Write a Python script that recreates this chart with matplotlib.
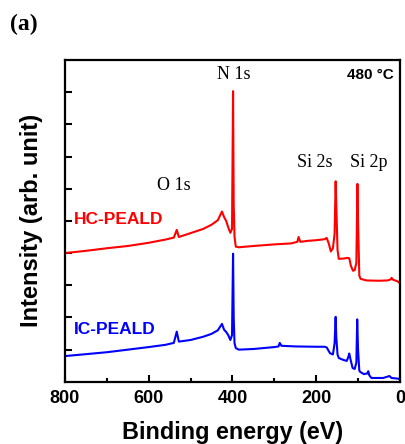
import matplotlib
matplotlib.use("Agg")
import matplotlib.pyplot as plt
from matplotlib.ticker import MultipleLocator

# Binding energy (eV) and intensity (arb. unit)
hc_energy = [800, 750, 700, 650, 600, 560, 540, 533, 528, 500, 470, 450, 435, 425, 420,
             415, 410, 405, 401, 398.5, 397, 395, 392, 385, 350, 300, 260, 245, 242, 238,
             220, 200, 180, 175, 170, 165, 160, 156, 153.5, 152, 149, 146, 135, 125, 121,
             117, 112, 108, 104, 101.5, 100, 97, 94, 80, 50, 30, 22, 20, 16, 5, 0]
hc_intensity = [4.0, 4.07, 4.15, 4.22, 4.32, 4.42, 4.48, 4.72, 4.5, 4.62, 4.75, 4.88, 5.02, 5.29, 5.12,
                5.0, 4.8, 4.63, 4.75, 9.03, 5.5, 4.5, 4.2, 4.18, 4.22, 4.27, 4.3, 4.35, 4.5, 4.35,
                4.38, 4.4, 4.43, 4.47, 4.3, 4.05, 4.15, 4.6, 6.23, 5.5, 4.1, 3.82, 3.83, 3.85, 3.84,
                3.6, 3.45, 3.47, 3.7, 6.15, 5.0, 3.3, 3.2, 3.15, 3.14, 3.15, 3.18, 3.23, 3.17, 3.12, 3.06]

ic_energy = [800, 750, 700, 650, 600, 560, 540, 533, 528, 500, 470, 450, 435, 425, 420,
             415, 410, 405, 401, 398.5, 397, 395, 392, 385, 350, 300, 290, 287, 283, 250,
             200, 180, 175, 167, 160, 156, 153.5, 152, 149, 146, 135, 127, 123, 121, 118,
             113, 108, 104, 102, 100, 97, 95, 86, 78, 75.6, 73, 68, 40, 25, 20, 5, 0]
ic_intensity = [0.8, 0.86, 0.92, 1.0, 1.08, 1.15, 1.21, 1.56, 1.25, 1.3, 1.4, 1.49, 1.6, 1.8, 1.62,
                1.55, 1.45, 1.3, 1.45, 3.98, 2.0, 1.2, 1.05, 1.0, 1.02, 1.08, 1.1, 1.21, 1.12, 1.1,
                1.09, 1.09, 1.07, 0.89, 0.85, 1.2, 2.02, 1.4, 0.85, 0.74, 0.68, 0.65, 0.78, 0.88, 0.7,
                0.43, 0.4, 0.6, 1.94, 1.0, 0.35, 0.31, 0.24, 0.26, 0.33, 0.2, 0.12, 0.12, 0.18, 0.12, 0.1, 0.08]

peak_labels = ["N 1s", "O 1s", "Si 2s", "Si 2p"]
peak_label_pos = [(396, 9.55), (539, 6.1), (203, 6.8), (74, 6.8)]
x_ticks = [800, 600, 400, 200, 0]

SANS = ["Liberation Sans", "DejaVu Sans"]
SERIF = ["Liberation Serif", "DejaVu Serif"]

fig = plt.figure(figsize=(4.06, 4.44), dpi=100)
ax = fig.add_axes([0.160, 0.140, 0.825, 0.725])

ax.plot(hc_energy, hc_intensity, color="#ff0000", lw=1.5)
ax.plot(ic_energy, ic_intensity, color="#0000ff", lw=1.5)

ax.set_xlim(800, 0)
ax.set_ylim(0, 10)
ax.set_xticks(x_ticks)
ax.xaxis.set_minor_locator(MultipleLocator(100))
ax.set_yticks(range(1, 10))
ax.set_yticklabels([])
ax.tick_params(axis="x", which="major", direction="in", length=5, width=1.5,
               labelsize=13, pad=6)
ax.tick_params(axis="x", which="minor", direction="in", length=3, width=1.5)
ax.tick_params(axis="y", which="major", direction="in", length=5, width=1.5)
for lab in ax.get_xticklabels():
    lab.set_fontfamily(SANS)
    lab.set_fontweight("bold")
for sp in ax.spines.values():
    sp.set_linewidth(1.6)

ax.set_xlabel("Binding energy (eV)", fontsize=16.8, fontweight="bold", family=SANS, labelpad=10)
ax.set_ylabel("Intensity (arb. unit)", fontsize=17, fontweight="bold", family=SANS, labelpad=12)

for txt, (x, y) in zip(peak_labels, peak_label_pos):
    ax.text(x, y, txt, fontsize=13, family=SERIF, ha="center", va="center")

ax.text(14, 9.52, "480 \u00b0C", fontsize=11, fontweight="bold", family=SANS,
        ha="right", va="center")
ax.text(779, 5.03, "HC-PEALD", fontsize=12.5, fontweight="bold", family=SANS,
        color="#ff0000", ha="left", va="center")
ax.text(779, 1.64, "IC-PEALD", fontsize=12.5, fontweight="bold", family=SANS,
        color="#0000ff", ha="left", va="center")

fig.text(10 / 406, 1 - 24 / 444, "(a)", fontsize=17, fontweight="bold", family=SERIF,
         ha="left", va="center")

fig.savefig("out.png", dpi=100)
